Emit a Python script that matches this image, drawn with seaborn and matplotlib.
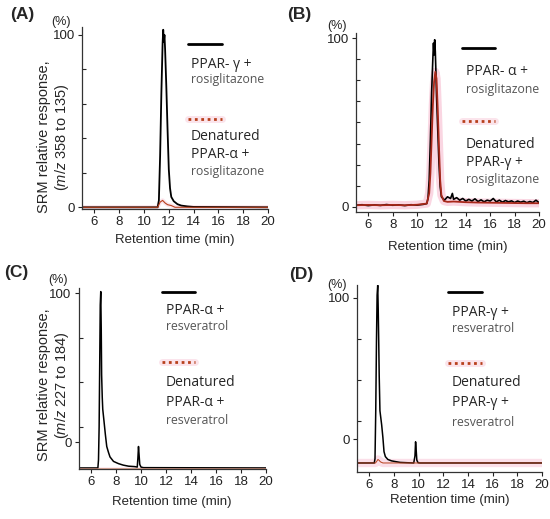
import numpy as np
import matplotlib
matplotlib.use("Agg")
import matplotlib.pyplot as plt
import seaborn as sns
from matplotlib.lines import Line2D

# ---- data (time in min, response in %) ----
a_t_black = [5, 11.1, 11.2, 11.3, 11.4, 11.5, 11.55, 11.6, 11.65, 11.7, 11.8, 11.9, 12.0,
             12.1, 12.2, 12.4, 12.7, 13.0, 13.5, 14.0, 20]
a_y_black = [0, 0, 4, 30, 66, 95, 103, 96, 100, 92, 70, 45, 22, 11, 6, 3.5, 1.8, 1, 0.5, 0.2, 0]
a_t_red = [5, 11.1, 11.3, 11.5, 11.7, 11.9, 12.2, 12.5, 20]
a_y_red = [0, 0, 3, 4, 2.5, 1.5, 1, 0, 0]

b_t_black = [5, 5.5, 6, 6.5, 7, 7.5, 8, 8.5, 9, 9.5, 10, 10.5, 10.8, 10.9, 11.0, 11.1,
             11.2, 11.3, 11.35, 11.4, 11.45, 11.5, 11.55, 11.6, 11.7, 11.8, 11.9, 12.0,
             12.25, 12.5, 12.75, 12.9, 13.0, 13.25, 13.5, 13.75, 14.0, 14.25, 14.5, 14.75,
             15.0, 15.25, 15.5, 15.75, 16.0, 16.25, 16.5, 16.75, 17.0, 17.25, 17.5, 17.75,
             18.0, 18.25, 18.5, 18.75, 19.0, 19.25, 19.5, 19.75, 20]
b_y_black = [1, 1.3, 0.8, 1.2, 0.9, 1.4, 1, 1.2, 0.8, 1.3, 1.1, 1.5, 2, 5, 16, 40, 68, 88,
             97, 90, 99, 92, 80, 66, 46, 26, 12, 6, 4, 6, 5, 8, 4.5, 5.5, 4, 5, 3.5, 4.5,
             3.5, 4.8, 3.2, 4.2, 3, 4, 3.5, 5, 3, 4, 2.8, 3.8, 3, 3.6, 2.6, 3.5, 2.8, 3.4,
             2.5, 3.2, 2.6, 4, 2.5]
b_t_red = [5, 6, 7, 8, 9, 10, 10.8, 11.0, 11.1, 11.2, 11.3, 11.4, 11.5, 11.6, 11.7, 11.8,
           11.9, 12.0, 12.2, 12.5, 13, 14, 15, 16, 17, 18, 19, 20]
b_y_red = [1, 1.2, 1, 1.2, 1, 1.3, 2, 8, 20, 40, 60, 74, 80, 76, 58, 36, 16, 7, 3.5, 3,
           3.2, 2.8, 2.6, 2.5, 2.4, 2.3, 2.2, 2.2]

c_t_black = [5, 6.55, 6.6, 6.65, 6.7, 6.74, 6.78, 6.82, 6.85, 6.9, 6.94, 7.04, 7.15,
             7.26, 7.4, 7.52, 7.8, 8.2, 8.58, 9.0, 9.5, 9.7, 9.75, 9.8, 9.85, 9.9, 10.0,
             10.2, 20]
c_y_black = [-17.4, -17.4, -12, 10, 55, 92, 101, 75, 45, 30, 22, 14, 5, -3, -7, -10, -13,
             -14.5, -15.5, -16.2, -16.5, -16.8, -11, -3, -9, -15, -16.8, -17.2, -17.4]
c_t_red = [5, 20]
c_y_red = [-17.4, -17.4]

d_t_black = [5, 6.4, 6.46, 6.52, 6.58, 6.63, 6.68, 6.72, 6.76, 6.8, 6.86, 7.0, 7.1, 7.19,
             7.3, 7.5, 7.8, 8.1, 8.5, 9.0, 9.6, 9.7, 9.75, 9.8, 9.85, 9.95, 10.1, 20]
d_y_black = [-17, -17, -14, 20, 70, 102, 109, 92, 70, 45, 20, 10, 1, -9, -12.5, -14.5, -15.5,
             -16, -16.6, -16.8, -17, -12, -2, -8, -15, -16.8, -17, -17]
d_t_red = [5, 6.5, 6.6, 6.7, 6.8, 6.9, 7.1, 20]
d_y_red = [-17, -17, -15.8, -14.5, -15.2, -16.2, -17, -17]

panel_names = ["(A)", "(B)", "(C)", "(D)"]
legend_top = ["PPAR- \u03b3 +", "PPAR- \u03b1 +", "PPAR-\u03b1 +", "PPAR-\u03b3 +"]
legend_bot = ["PPAR-\u03b1 +", "PPAR-\u03b3 +", "PPAR-\u03b1 +", "PPAR-\u03b3 +"]
ligands = ["rosiglitazone", "rosiglitazone", "resveratrol", "resveratrol"]
x_ticks = [6, 8, 10, 12, 14, 16, 18, 20]

W, H = 550, 519
sns.set_theme(style="ticks")
plt.rcParams["font.family"] = ["Liberation Sans", "DejaVu Sans"]
plt.rcParams["mathtext.fontset"] = "custom"
plt.rcParams["mathtext.it"] = "Liberation Sans:italic"
plt.rcParams["mathtext.rm"] = "Liberation Sans"

fig = plt.figure(figsize=(W / 100, H / 100), dpi=100)
fig.patch.set_facecolor("white")


def box(left, right, bottom, top):
    # pixel box -> figure fraction
    return [left / W, 1 - bottom / H, (right - left) / W, (bottom - top) / H]


def ftext(x, y, s, **kw):
    fig.text(x / W, 1 - y / H, s, **kw)


# axes placement in pixels: left, right, bottom, top
boxes = [(82, 268, 209, 27), (356, 539, 212, 33), (78.5, 266, 469, 288), (357, 542, 472, 285)]
ylims = [(-1, 104.6), (-3, 103), (-18.1, 103.4), (-23.4, 109.2)]
minor_y = [[20, 40, 60, 80], [12.5, 25, 37.5, 50, 62.5, 75, 87.5], [10, 40, 70], [13, 42, 71]]

series = [
    (a_t_black, a_y_black, a_t_red, a_y_red),
    (b_t_black, b_y_black, b_t_red, b_y_red),
    (c_t_black, c_y_black, c_t_red, c_y_red),
    (d_t_black, d_y_black, d_t_red, d_y_red),
]

red = "#b8401c"
pink = "#f4a6c0"
halo_w = [3, 6, 2, 6]
halo_a = [0.3, 0.45, 0.2, 0.35]
red_w = [0.8, 1.3, 0.5, 0.7]
red_c = [red, "#a8281a", "#d08a70", red]
black_w = [1.3, 1.2, 1.1, 1.1]

axes = []
for i, (bx, yl, mt, (tb, yb, tr, yr)) in enumerate(zip(boxes, ylims, minor_y, series)):
    ax = fig.add_axes(box(*bx))
    axes.append(ax)
    ax.set_facecolor("none")
    # pink halo under the denatured trace
    sns.lineplot(x=tr, y=yr, ax=ax, color=pink, lw=halo_w[i], alpha=halo_a[i],
                 estimator=None, sort=False)
    sns.lineplot(x=tb, y=yb, ax=ax, color="black", lw=black_w[i], estimator=None, sort=False)
    sns.lineplot(x=tr, y=yr, ax=ax, color=red_c[i], lw=red_w[i],
                 estimator=None, sort=False)
    ax.set_xlim(5, 20)
    ax.set_ylim(*yl)
    ax.set_xticks(x_ticks)
    ax.set_yticks([0, 100])
    ax.set_yticks(mt, minor=True)
    ax.tick_params(axis="both", which="major", labelsize=9.5, length=3, width=0.8, pad=2,
                   colors="#222222")
    ax.tick_params(axis="y", which="minor", direction="in", length=3, width=0.8)
    ax.set_xlabel("")
    ax.set_ylabel("")
    for s in ["top", "right"]:
        ax.spines[s].set_visible(False)
    for s in ["left", "bottom"]:
        ax.spines[s].set_linewidth(0.9)
        ax.spines[s].set_color("#333333")

# panel letters and (%) marks
ftext(10, 15, "(A)", fontsize=12.5, fontweight="bold", va="center")
ftext(287, 15, "(B)", fontsize=12.5, fontweight="bold", va="center")
ftext(4, 272, "(C)", fontsize=12.5, fontweight="bold", va="center")
ftext(289, 275, "(D)", fontsize=12.5, fontweight="bold", va="center")
ftext(61, 22, "(%)", fontsize=9, ha="center", va="center")
ftext(337, 26, "(%)", fontsize=9, ha="center", va="center")
ftext(58, 280, "(%)", fontsize=9, ha="center", va="center")
ftext(337, 285, "(%)", fontsize=9, ha="center", va="center")

# x labels
for (l, r, b, t), y in zip(boxes, [240, 247, 502, 500]):
    ftext((l + r) / 2, y, "Retention time (min)", fontsize=9.5, ha="center", va="center")

# y labels (panels A and C)
for yc, mz in [(137, "358 to 135"), (385, "227 to 184")]:
    ftext(44, yc, "SRM relative response,", fontsize=10.5, rotation=90, ha="center",
          va="center")
    ftext(62, yc, r"($\it{m/z}$ " + mz + ")", fontsize=10.5, rotation=90, ha="center",
          va="center")

# legend blocks
leg_font = ["Open Sans", "DejaVu Sans"]
legend_pos = [
    # x_line0, x_line1, y_black, x_text, y_top, y_lig1, y_red, y_den, y_bot, y_lig2
    (188, 222, 44, 191, 64, 80, 119, 137, 154, 172),
    (462, 495, 48, 466, 72, 89, 121, 145, 163, 180),
    (162, 195, 292, 166, 310, 327, 362, 383, 402, 420),
    (448, 482, 292, 452, 312, 329, 363, 383, 403, 422),
]
for i, (x0, x1, yb, xt, y1, y2, yr, yd, y3, y4) in enumerate(legend_pos):
    fig.add_artist(Line2D([x0 / W, x1 / W], [1 - yb / H, 1 - yb / H], color="black", lw=2))
    fig.add_artist(Line2D([x0 / W, x1 / W], [1 - yr / H, 1 - yr / H], color=pink, lw=5,
                          alpha=0.3))
    fig.add_artist(Line2D([x0 / W, x1 / W], [1 - yr / H, 1 - yr / H], color=red, lw=2,
                          ls=(0, (1, 1.3))))
    ftext(xt, y1, legend_top[i], fontsize=10, family=leg_font, va="center")
    ftext(xt, y2, ligands[i], fontsize=8.8, family=leg_font, va="center", color="#555555")
    ftext(xt, yd, "Denatured", fontsize=10, family=leg_font, va="center")
    ftext(xt, y3, legend_bot[i], fontsize=10, family=leg_font, va="center")
    ftext(xt, y4, ligands[i], fontsize=8.8, family=leg_font, va="center", color="#555555")

fig.savefig("out.png", dpi=100, facecolor="white")
